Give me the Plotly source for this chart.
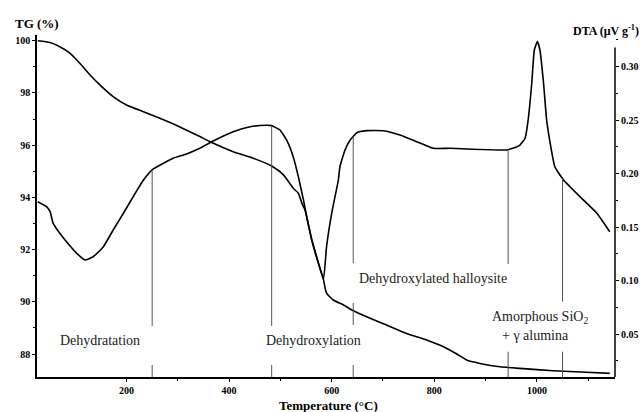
import numpy as np
import plotly.graph_objects as go

# Thermogravimetric (TG) curve: temperature (°C) vs. residual mass (%)
tg_temp = [27, 51, 70, 90, 109, 129, 148, 174, 200, 233, 265, 304, 343, 366, 408,
           447, 483, 506, 525, 535, 542, 548, 561, 574, 584, 590, 603, 623, 642,
           675, 707, 746, 785, 818, 844, 863, 889, 928, 967, 1032, 1097, 1142]
tg_mass = [100.0, 99.93, 99.77, 99.52, 99.14, 98.69, 98.31, 97.86, 97.54, 97.28,
           97.03, 96.70, 96.33, 96.10, 95.75, 95.50, 95.20, 94.86, 94.35, 94.16,
           93.77, 93.52, 92.40, 91.50, 90.84, 90.33, 90.07, 89.88, 89.66, 89.37,
           89.11, 88.79, 88.54, 88.28, 88.00, 87.77, 87.64, 87.51, 87.45, 87.36,
           87.30, 87.26]

# Differential thermal analysis (DTA) curve: temperature (°C) vs. signal (µV/g)
dta_temp = [27, 44, 51, 57, 70, 83, 103, 119, 135, 155, 174, 194, 213, 233, 251,
            272, 291, 317, 343, 366, 408, 441, 473, 483, 499, 512, 525, 535, 545,
            548, 561, 574, 584, 590, 600, 613, 616, 626, 636, 649, 668, 701, 733,
            766, 798, 831, 875, 941, 953, 967, 977, 983, 990, 995, 1001, 1006,
            1013, 1019, 1026, 1035, 1052, 1084, 1117, 1142]
dta_signal = [0.1738, 0.1692, 0.1645, 0.1536, 0.1443, 0.1364, 0.1256, 0.1193,
              0.1224, 0.1318, 0.1474, 0.1630, 0.1785, 0.1941, 0.2041, 0.2097,
              0.2144, 0.2184, 0.2237, 0.2299, 0.2393, 0.2439, 0.2452, 0.2449,
              0.2408, 0.2315, 0.2159, 0.1972, 0.1754, 0.1677, 0.1380, 0.1163,
              0.1016, 0.1318, 0.1630, 0.1941, 0.2065, 0.2222, 0.2315, 0.2383,
              0.2402, 0.2402, 0.2362, 0.2299, 0.2237, 0.2237, 0.2228, 0.2222,
              0.2237, 0.2268, 0.2331, 0.2502, 0.2845, 0.3156, 0.3234, 0.3156,
              0.2845, 0.2502, 0.2284, 0.2065, 0.1941, 0.1785, 0.1630, 0.1458]

# Stage boundaries (°C) and the blank spans (DTA units) left for the labels
guide_temps = [250, 483, 642, 944, 1050]
guide_gaps = [
    [(0.0212, 0.0577)],
    [(0.0212, 0.0577)],
    [(0.0212, 0.0586), (0.0792, 0.1163)],
    [(0.0336, 0.1156)],
    [(0.0336, 0.0804)],
]

# Stage labels: (text, temperature, DTA level)
stage_labels = [
    ("Dehydratation", 149, 0.0437),
    ("Dehydroxylation", 565, 0.0437),
    ("Dehydroxylated halloysite", 798, 0.1016),
    ("Amorphous SiO<sub>2</sub>", 1006, 0.0658),
    ("+ \u03b3 alumina", 998, 0.0486),
]

x_range = [25.5, 1152.3]
tg_range = [87.12, 100.22]
dta_range = [0.0100, 0.3296]

SERIF = "Liberation Serif"

fig = go.Figure()

fig.add_trace(go.Scatter(
    x=tg_temp, y=tg_mass, mode="lines",
    line=dict(color="black", width=1.6, shape="spline", smoothing=0.5),
    yaxis="y", hoverinfo="skip"))

fig.add_trace(go.Scatter(
    x=dta_temp, y=dta_signal, mode="lines",
    line=dict(color="black", width=1.6, shape="spline", smoothing=0.4),
    yaxis="y2", hoverinfo="skip"))

# Vertical stage markers, rising from the axis to the DTA curve
gx, gy = [], []
for t, gaps in zip(guide_temps, guide_gaps):
    top = float(np.interp(t, dta_temp, dta_signal))
    edges = [top]
    for lo, hi in sorted(gaps, key=lambda g: -g[1]):
        edges += [hi, lo]
    edges.append(dta_range[0])
    for a, b in zip(edges[0::2], edges[1::2]):
        gx += [t, t, None]
        gy += [a, b, None]
fig.add_trace(go.Scatter(
    x=gx, y=gy, mode="lines", line=dict(color="#555555", width=1),
    yaxis="y2", hoverinfo="skip"))

for text, t, v in stage_labels:
    fig.add_annotation(x=t, y=v, xref="x", yref="y2", text=text,
                       showarrow=False,
                       font=dict(family=SERIF, size=14, color="#222222"))

# Right axis line (shorter than the plot height)
fig.add_shape(type="line", xref="paper", yref="y2", x0=1, x1=1,
              y0=dta_range[0], y1=0.318, line=dict(color="black", width=1.5))

tick_font = dict(family=SERIF, size=10, color="black", weight="bold")

fig.update_layout(
    width=642, height=412,
    margin=dict(l=37, r=27, t=35, b=35),
    paper_bgcolor="white", plot_bgcolor="white",
    font=dict(family=SERIF),
    showlegend=False, hovermode=False,
    xaxis=dict(
        range=x_range, tickvals=[200, 400, 600, 800, 1000], automargin=False,
        showline=True, linecolor="black", linewidth=1.5,
        ticks="outside", ticklen=3, tickwidth=1, tickcolor="black",
        minor=dict(tickvals=[300, 500, 700, 900, 1100], ticks="outside",
                   ticklen=2, tickcolor="black"),
        showgrid=False, zeroline=False, tickfont=tick_font,
    ),
    yaxis=dict(
        range=tg_range, tickvals=[88, 90, 92, 94, 96, 98, 100], automargin=False,
        showline=True, linecolor="black", linewidth=1.5,
        ticks="outside", ticklen=3, tickwidth=1, tickcolor="black",
        minor=dict(tickvals=[89, 91, 93, 95, 97, 99], ticks="outside",
                   ticklen=2, tickcolor="black"),
        showgrid=False, zeroline=False, tickfont=tick_font,
    ),
    yaxis2=dict(
        range=dta_range, overlaying="y", side="right", automargin=False,
        tickvals=[0.05, 0.10, 0.15, 0.20, 0.25, 0.30], tickformat=".2f",
        showline=False,
        ticks="outside", ticklen=3, tickwidth=1, tickcolor="black",
        minor=dict(dtick=0.025, ticks="outside", ticklen=2, tickcolor="black"),
        showgrid=False, zeroline=False, tickfont=tick_font,
    ),
)

# Axis titles, placed by pixel position around the plot area
plot_w = 642 - 37 - 27
plot_h = 412 - 35 - 35


def px_to_paper(px, py):
    return (px - 37) / plot_w, (412 - 35 - py) / plot_h


axis_titles = [
    ("TG (%)", 37, 24, 13),
    ("DTA (\u03bcV g<sup>-1</sup>)", 606, 31, 12),
    ("Temperature (\u00b0C)", 328, 405, 13),
]
for text, px, py, size in axis_titles:
    ax, ay = px_to_paper(px, py)
    fig.add_annotation(text=text, x=ax, y=ay, xref="paper", yref="paper",
                       xanchor="center", yanchor="middle", showarrow=False,
                       font=dict(family=SERIF, size=size, color="black",
                                 weight="bold"))

fig.write_html("out.html")
